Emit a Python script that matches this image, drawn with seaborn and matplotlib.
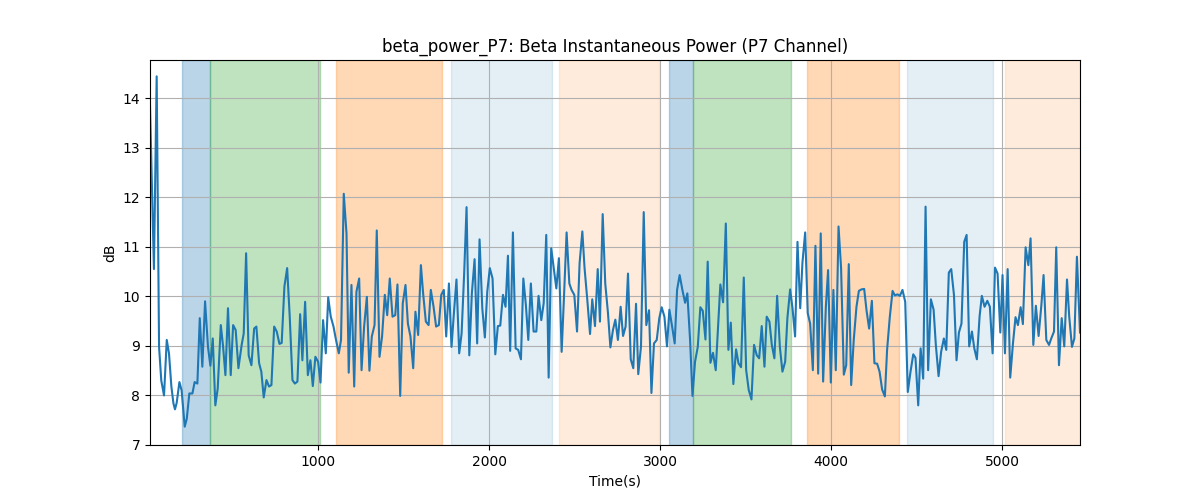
import matplotlib
matplotlib.use("Agg")
import matplotlib.pyplot as plt
import seaborn as sns
import pandas as pd

time_s = [17, 40, 56, 70, 83, 99, 115, 128, 142, 154, 163, 173, 189, 202, 220, 232, 247, 265, 278, 294,
          308, 323, 339, 356, 370, 384, 399, 413, 431, 444, 458, 473, 489, 503, 518, 534,
          553, 565, 579, 594, 610, 626, 639, 655, 668, 682, 698, 713, 727, 743, 758, 774, 787, 803, 819,
          834, 850, 864, 879, 895, 908, 924, 940, 955, 969, 984, 1000, 1014, 1029, 1045, 1059, 1074, 1090, 1103,
          1121, 1134, 1150, 1166, 1179, 1195, 1211, 1224, 1240, 1254, 1269, 1285, 1300, 1314, 1330, 1343, 1359,
          1374, 1390, 1404, 1419, 1435, 1451, 1464, 1480, 1495, 1511, 1525, 1540, 1556, 1569, 1585, 1601, 1614,
          1630, 1646, 1659, 1675,
          1690, 1706, 1720, 1735, 1749, 1765, 1780, 1794, 1809, 1825, 1839, 1854, 1868, 1884, 1899, 1915, 1930,
          1944, 1960, 1975, 1989, 2004, 2020, 2036, 2051, 2065, 2081, 2096, 2110, 2123, 2139, 2155, 2170, 2186,
          2200, 2215,
          2229, 2244, 2260, 2276, 2289, 2305, 2319, 2334, 2348, 2363, 2379, 2393, 2408, 2424, 2437, 2453, 2469,
          2482, 2498, 2514, 2529, 2545, 2558, 2574, 2590, 2603, 2619, 2635, 2648, 2664, 2679, 2695, 2709, 2724,
          2738, 2753, 2769,
          2783, 2798, 2812, 2828, 2843, 2859, 2872, 2888, 2904, 2919, 2935, 2949, 2964, 2980, 2995, 3009, 3025,
          3040, 3054, 3070, 3085, 3099, 3114, 3130, 3146, 3159, 3175, 3189, 3204, 3220, 3235, 3249, 3265, 3278,
          3294, 3309, 3325,
          3339, 3352, 3368, 3384, 3399, 3413, 3428, 3444, 3458, 3473, 3489, 3503, 3518, 3534, 3549, 3565, 3579,
          3594, 3610, 3623, 3639, 3653, 3668, 3684, 3700, 3715, 3731, 3744, 3760, 3774, 3789, 3803, 3819, 3832,
          3848, 3863, 3877,
          3893, 3908, 3924, 3939, 3953, 3969, 3982, 3998, 4013, 4027, 4043, 4058, 4074, 4088, 4103, 4117, 4132,
          4148, 4162, 4177, 4193, 4207, 4222, 4238, 4253, 4269, 4283, 4298, 4314, 4327, 4343, 4359, 4372, 4388,
          4402, 4417, 4433,
          4448, 4464, 4480, 4493, 4509, 4523, 4538, 4552, 4567, 4583, 4599, 4612, 4628, 4643, 4659, 4673, 4688,
          4702, 4718, 4733, 4747, 4762, 4778, 4792, 4807, 4823, 4837, 4852, 4868, 4881, 4897, 4913, 4928, 4944,
          4958, 4973, 4989,
          5002, 5016, 5032, 5047, 5063, 5078, 5092, 5108, 5121, 5137, 5153, 5166, 5182, 5197, 5213, 5229, 5242,
          5258, 5274, 5287, 5303, 5316, 5332, 5348, 5363, 5379, 5392, 5408, 5422, 5437, 5455]

power_db = [13.85, 10.55, 14.44, 8.98, 8.3, 8.0, 9.12, 8.85, 8.18, 7.84, 7.72, 7.85, 8.27, 8.1, 7.37, 7.53, 8.04, 8.04, 8.27, 8.24,
            9.56, 8.58, 9.9, 8.98, 8.6, 9.15, 7.8, 8.14, 9.42, 9.0, 8.41, 9.76, 8.41, 9.42, 9.32, 8.55,
            9.02, 9.25, 10.87, 8.81, 8.61, 9.35, 9.39, 8.65, 8.48, 7.96, 8.31, 8.18, 8.21, 9.39, 9.29, 9.04, 9.06, 10.2, 10.57,
            9.59, 8.31, 8.24, 8.28, 9.64, 8.71, 9.89, 8.41, 8.71, 8.19, 8.78, 8.68, 8.26, 9.52, 8.85, 9.98, 9.59, 9.39, 9.15,
            8.85, 9.12, 12.07, 11.27, 8.46, 10.23, 8.18, 10.09, 10.36, 8.51, 9.39, 9.99, 8.5, 9.19, 9.42, 11.33, 8.78,
            9.19, 10.03, 9.62, 10.36, 9.59, 9.62, 10.24, 7.99, 9.86, 10.23, 9.45, 9.19, 8.55, 9.69, 9.22, 10.63, 10.06,
            9.49, 9.42, 10.13, 9.79,
            9.39, 9.42, 10.03, 10.13, 9.19, 10.26, 8.98, 9.66, 10.34, 8.85, 9.25, 10.46, 11.8, 8.81, 10.06, 10.75, 9.05,
            11.15, 9.76, 9.17, 10.09, 10.57, 10.36, 8.83, 9.4, 9.41, 10.03, 9.79, 10.82, 8.9, 11.29, 8.95, 8.92, 8.73,
            10.36, 9.82,
            9.12, 10.26, 9.29, 9.29, 10.01, 9.52, 9.86, 11.24, 8.36, 10.97, 10.53, 10.16, 10.77, 8.88, 9.93, 11.29, 10.26,
            10.13, 10.03, 9.29, 10.67, 11.31, 10.57, 9.93, 9.24, 9.94, 9.4, 10.55, 9.49, 11.66, 10.26, 9.66, 8.97, 9.32,
            9.53, 9.12, 9.79,
            9.2, 9.39, 10.46, 8.73, 8.55, 9.85, 8.43, 8.99, 11.7, 9.42, 9.72, 8.05, 9.05, 9.12, 9.56, 9.78, 9.59,
            8.99, 9.73, 9.39, 9.05, 10.13, 10.43, 10.13, 9.87, 10.06, 9.12, 7.99, 8.68, 8.98, 9.78, 9.71, 9.13, 10.7,
            8.66, 8.86, 8.51,
            9.39, 10.24, 9.88, 11.47, 8.92, 9.47, 8.23, 8.93, 8.65, 8.57, 10.38, 8.51, 8.11, 7.92, 9.02, 8.81, 8.75,
            9.4, 8.58, 9.59, 9.49, 9.02, 8.75, 10.01, 8.98, 8.48, 8.68, 9.56, 10.14, 9.76, 9.19, 11.1, 9.76, 10.68,
            11.29, 9.66, 9.45,
            8.51, 11.02, 8.44, 11.27, 8.28, 9.79, 10.53, 8.26, 10.13, 8.51, 11.41, 10.57, 8.42, 8.61, 10.65, 8.21, 9.12,
            9.79, 10.11, 10.14, 10.15, 9.71, 9.35, 9.91, 8.65, 8.64, 8.48, 8.12, 7.98, 8.92, 9.59, 10.11, 10.02, 10.04,
            10.01, 10.13, 9.89,
            8.07, 8.48, 8.83, 8.76, 7.8, 8.95, 8.34, 11.81, 8.51, 9.94, 9.73, 9.02, 8.39, 8.88, 9.15, 8.92, 10.48,
            10.55, 10.03, 8.71, 9.27, 9.45, 11.1, 11.24, 8.99, 9.29, 8.95, 8.73, 9.6, 10.01, 9.79, 9.91, 9.79, 8.85,
            10.58, 10.46, 9.27,
            10.43, 8.85, 10.55, 8.36, 9.05, 9.58, 9.42, 9.78, 9.44, 10.99, 10.63, 11.17, 9.02, 9.81, 9.2, 9.82, 10.43,
            9.12, 9.02, 9.15, 9.29, 10.99, 8.61, 9.56, 8.99, 10.34, 9.59, 8.98, 9.15, 10.8, 9.27]

# Shaded intervals (seconds) and their kind
span_starts = [206, 366, 1107, 1778, 2410, 3054, 3190, 3860, 4441, 5014]
span_ends = [366, 1010, 1724, 2367, 2995, 3190, 3766, 4394, 4948, 5455]
span_kinds = ["blue", "green", "orange", "lightblue", "lightorange",
              "blue", "green", "orange", "lightblue", "lightorange"]

kind_style = {
    "blue": ("tab:blue", 0.3),
    "green": ("tab:green", 0.3),
    "orange": ("tab:orange", 0.3),
    "lightblue": ("tab:blue", 0.12),
    "lightorange": ("tab:orange", 0.15),
}

df = pd.DataFrame({"Time(s)": time_s, "dB": power_db})

fig, ax = plt.subplots(figsize=(12, 5), dpi=100)
for s, e, k in zip(span_starts, span_ends, span_kinds):
    c, a = kind_style[k]
    ax.axvspan(s, e, color=c, alpha=a)

sns.lineplot(data=df, x="Time(s)", y="dB", ax=ax, color="tab:blue", linewidth=1.5)

ax.set_xlim(time_s[0], time_s[-1])
ax.set_ylim(7.0, 14.77)
ax.grid(True)
ax.set_title("beta_power_P7: Beta Instantaneous Power (P7 Channel)")
ax.set_xlabel("Time(s)")
ax.set_ylabel("dB")

fig.savefig("out.png", dpi=100)
